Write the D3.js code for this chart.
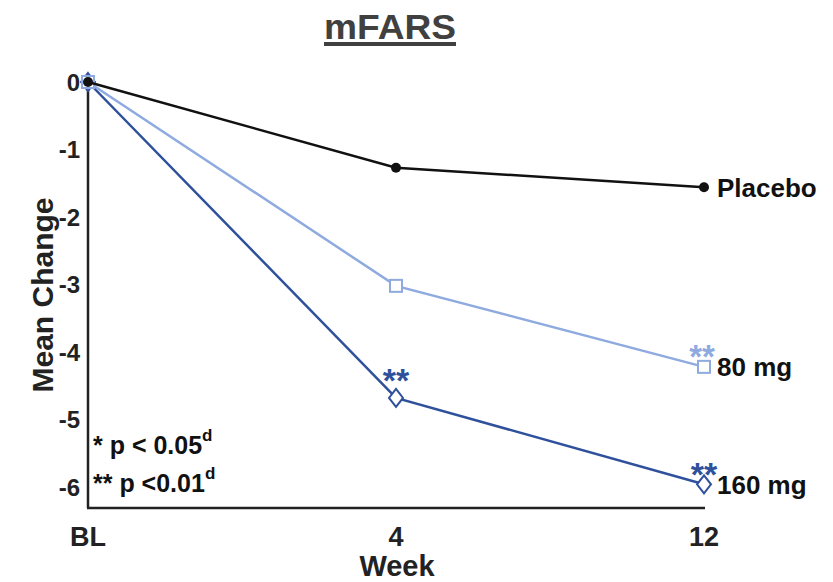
<!DOCTYPE html>
<html><head><meta charset="utf-8">
<script src="https://cdn.jsdelivr.net/npm/d3@7"></script>
<style>body{margin:0;background:#fff}svg{display:block;font-family:"Liberation Sans",Arial,sans-serif;font-weight:bold}</style>
</head><body><svg id="c" width="833" height="582"></svg>
<script>
const categories = ["BL", "4", "12"];
const yTicks = [0, -1, -2, -3, -4, -5, -6];
const placebo = [0, -1.27, -1.56];
const mg80 = [0, -3.02, -4.22];
const mg160 = [0, -4.68, -5.96];
const stars80 = [null, null, "**"];
const stars160 = [null, "**", "**"];
const seriesNames = ["Placebo", "80 mg", "160 mg"];

const svg = d3.select("#c");
const x = d3.scalePoint().domain(categories).range([88, 704]);
const y = d3.scaleLinear().domain([0, -6]).range([82, 487]);
const yBottom = y(-6.31);

const black = "#111", light = "#8eaadf", dark = "#2f519c";

// title
svg.append("text").attr("x", 390).attr("y", 39).attr("text-anchor", "middle")
  .attr("font-size", 35).attr("fill", "#404040").attr("textLength", 132)
  .attr("lengthAdjust", "spacingAndGlyphs").text("mFARS");
svg.append("rect").attr("x", 324).attr("y", 42).attr("width", 132).attr("height", 4).attr("fill", "#404040");

// axes lines
svg.append("line").attr("x1", 88).attr("x2", 88).attr("y1", y(0)).attr("y2", yBottom)
  .attr("stroke", "#222").attr("stroke-width", 2.5);
svg.append("line").attr("x1", 87).attr("x2", 705).attr("y1", yBottom).attr("y2", yBottom)
  .attr("stroke", "#222").attr("stroke-width", 2.5);

// y tick labels
svg.selectAll(".yt").data(yTicks).join("text").attr("class", "yt")
  .attr("x", 80).attr("y", d => y(d)).attr("dy", "0.36em").attr("text-anchor", "end")
  .attr("font-size", 24).attr("fill", "#222").text(d => d);
svg.append("text").attr("transform", "translate(53,295) rotate(-90)").attr("text-anchor", "middle")
  .attr("font-size", 30).attr("fill", "#222").text("Mean Change");

// x tick labels
svg.selectAll(".xt").data(categories).join("text").attr("class", "xt")
  .attr("x", d => x(d)).attr("y", 546).attr("text-anchor", "middle")
  .attr("font-size", 27).attr("fill", "#222").text(d => d);
svg.append("text").attr("x", 397).attr("y", 576).attr("text-anchor", "middle")
  .attr("font-size", 29).attr("fill", "#222").text("Week");

const line = d3.line().x((d, i) => x(categories[i])).y(d => y(d));

// 160 mg
svg.append("path").datum(mg160).attr("d", line).attr("fill", "none").attr("stroke", dark).attr("stroke-width", 2.5);
svg.selectAll(".m160").data(mg160).join("path").attr("class", "m160")
  .attr("transform", (d, i) => `translate(${x(categories[i])},${y(d)})`)
  .attr("d", "M0,-9L7,0L0,9L-7,0Z").attr("fill", "#fff").attr("stroke", dark).attr("stroke-width", 2);

// 80 mg
svg.append("path").datum(mg80).attr("d", line).attr("fill", "none").attr("stroke", light).attr("stroke-width", 2.5);
svg.selectAll(".m80").data(mg80).join("rect").attr("class", "m80")
  .attr("x", (d, i) => x(categories[i]) - 6).attr("y", d => y(d) - 6)
  .attr("width", 12).attr("height", 12).attr("fill", "#fff").attr("stroke", light).attr("stroke-width", 2);

// placebo
svg.append("path").datum(placebo).attr("d", line).attr("fill", "none").attr("stroke", black).attr("stroke-width", 2.5);
svg.selectAll(".mp").data(placebo).join("circle").attr("class", "mp")
  .attr("cx", (d, i) => x(categories[i])).attr("cy", d => y(d)).attr("r", 5).attr("fill", black);

// stars (offset: above at week 4, beside at week 12)
const starOff = i => (i === 2 ? 2 : -6);
svg.selectAll(".s160").data(mg160.map((v, i) => ({v, s: stars160[i], i})).filter(d => d.s))
  .join("text").attr("class", "s160").attr("x", d => x(categories[d.i])).attr("y", d => y(d.v) + starOff(d.i))
  .attr("text-anchor", "middle").attr("font-size", 34).attr("fill", dark).text(d => d.s);
svg.selectAll(".s80").data(mg80.map((v, i) => ({v, s: stars80[i], i})).filter(d => d.s))
  .join("text").attr("class", "s80").attr("x", d => x(categories[d.i]) - 2).attr("y", d => y(d.v) + 1)
  .attr("text-anchor", "middle").attr("font-size", 33).attr("fill", light).text(d => d.s);

// series labels
const ends = [placebo[2], mg80[2], mg160[2]];
svg.selectAll(".sl").data(seriesNames).join("text").attr("class", "sl")
  .attr("x", 717).attr("y", (d, i) => y(ends[i])).attr("dy", "0.36em")
  .attr("font-size", 26).attr("fill", "#111").text(d => d);

// footnotes
const fn = [["* p < 0.05", 454], ["** p <0.01", 492]];
fn.forEach(([t, yy]) => {
  const tx = svg.append("text").attr("x", 93).attr("y", yy).attr("font-size", 25).attr("fill", "#111");
  tx.append("tspan").text(t);
  tx.append("tspan").attr("dy", -13).attr("font-size", 17).text("d");
});
</script></body></html>
